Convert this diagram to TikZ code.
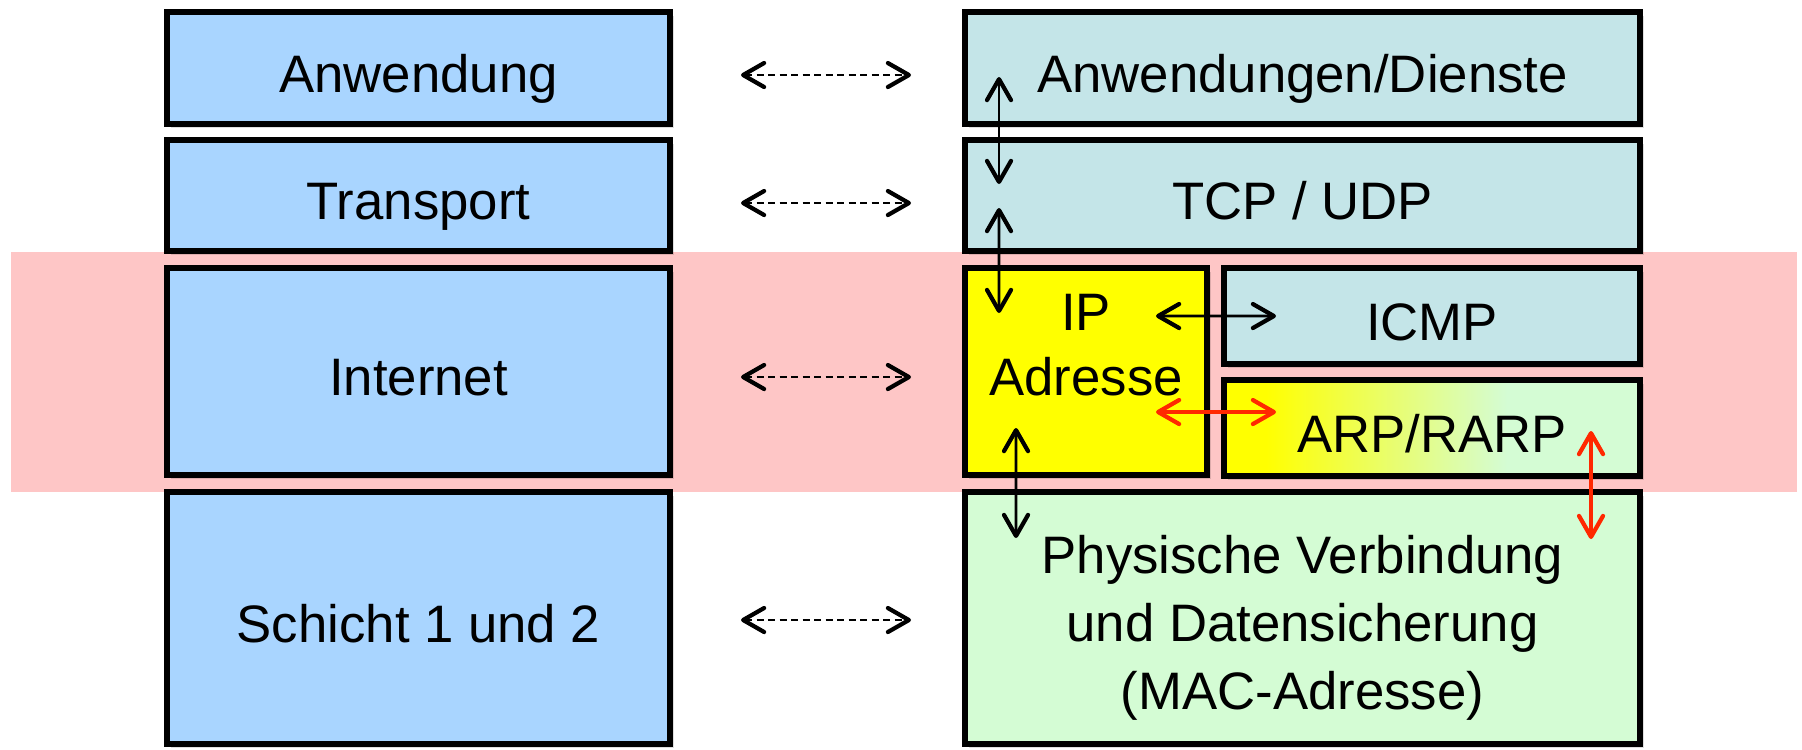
\documentclass[tikz,border=0pt]{standalone}
\usepackage{fontspec}
\setmainfont{Liberation Sans}
\usetikzlibrary{arrows.meta,calc,shadows}
\definecolor{layerblue}{RGB}{169,213,255}
\definecolor{protocyan}{RGB}{196,229,232}
\definecolor{ipyellow}{RGB}{255,255,0}
\definecolor{linkgreen}{RGB}{212,252,212}
\definecolor{bandpink}{RGB}{254,198,198}
\definecolor{arrowred}{RGB}{255,40,0}
\pgfdeclarehorizontalshading{arpshade}{100bp}{color(0bp)=(ipyellow); color(30bp)=(ipyellow); color(59bp)=(linkgreen); color(100bp)=(linkgreen)}

\begin{document}
\begin{tikzpicture}[
    chev/.tip={Straight Barb[length=0.21cm, width=0.24cm, line width=1.2pt, round]},
    layer/.style={rectangle, draw, line width=0.06cm, inner sep=0pt, align=center, text height=0.48cm, text depth=0cm, font=\fontsize{15pt}{18.5pt}\selectfont, drop shadow={shadow xshift=0.035cm, shadow yshift=-0.035cm, opacity=0.13, fill=black}},
    boxtext/.style={align=center, inner sep=0pt},
    peer/.style={chev-chev, line width=0.6pt, dash pattern=on 0.07cm off 0.045cm},
    link/.style={chev-chev, line width=0.8pt},
    redlink/.style={chev-chev, line width=1.1pt, draw=arrowred}
]
\useasboundingbox (0,0) rectangle (18.02,-7.49);

% === INTERNET BAND ===
\fill[bandpink] (0.11,-2.52) rectangle (17.97,-4.92);

% === TCP/IP-MODELL (left) ===
\node[layer, fill=layerblue, minimum width=5.03cm, minimum height=1.12cm] (anw) at (4.185,-0.68) {Anwendung};
\node[layer, fill=layerblue, minimum width=5.03cm, minimum height=1.11cm] (trans) at (4.185,-1.955) {Transport};
\node[layer, fill=layerblue, minimum width=5.03cm, minimum height=2.07cm] (inet) at (4.185,-3.715) {Internet};
\node[layer, fill=layerblue, minimum width=5.03cm, minimum height=2.52cm] (schicht) at (4.185,-6.18) {Schicht 1 und 2};

% === PROTOKOLLE (right) ===
\node[layer, fill=protocyan, minimum width=6.75cm, minimum height=1.12cm] (dienste) at (13.025,-0.68) {Anwendungen/Dienste};
\node[layer, fill=protocyan, minimum width=6.75cm, minimum height=1.11cm] (tcp) at (13.025,-1.955) {TCP / UDP};
\node[layer, fill=ipyellow, minimum width=2.42cm, minimum height=2.07cm] (ip) at (10.86,-3.715) {};
\node[boxtext, font=\fontsize{15pt}{18.5pt}\selectfont] (iptext) at (10.86,-3.45) {IP\\Adresse};
\node[layer, fill=protocyan, minimum width=4.16cm, minimum height=0.96cm] (icmp) at (14.32,-3.16) {ICMP};
\node[layer, shading=arpshade, minimum width=4.16cm, minimum height=0.96cm] (arp) at (14.32,-4.28) {ARP/RARP};
\node[layer, fill=linkgreen, minimum width=6.75cm, minimum height=2.52cm] (phys) at (13.025,-6.18) {};
\node[boxtext, font=\fontsize{15pt}{19.3pt}\selectfont] (phystext) at (13.025,-6.28) {Physische Verbindung\\und Datensicherung\\(MAC-Adresse)};

% === PEER ARROWS ===
\draw[peer, shorten <=0.68cm, shorten >=0.51cm] ([yshift=-0.07cm]anw.east) -- ([yshift=-0.07cm]dienste.west);
\draw[peer, shorten <=0.68cm, shorten >=0.51cm] ([yshift=-0.075cm]trans.east) -- ([yshift=-0.075cm]tcp.west);
\draw[peer, shorten <=0.68cm, shorten >=0.51cm] ([yshift=-0.055cm]inet.east) -- ([yshift=-0.055cm]ip.west);
\draw[peer, shorten <=0.68cm, shorten >=0.51cm] ([yshift=-0.02cm]schicht.east) -- ([yshift=-0.02cm]phys.west);

% === STACK ARROWS ===
\draw[link] ([xshift=0.37cm, yshift=-0.68cm]dienste.north west) -- ([xshift=0.37cm, yshift=-0.47cm]tcp.north west);
\draw[link] ([xshift=0.37cm, yshift=-0.71cm]tcp.north west) -- ([xshift=0.37cm, yshift=-0.48cm]ip.north west);
\draw[link] ([xshift=-0.54cm, yshift=-0.51cm]ip.north east) -- ([xshift=0.55cm]icmp.west);
\draw[redlink] ([xshift=-0.54cm, yshift=0.66cm]ip.south east) -- ([xshift=0.55cm, yshift=0.16cm]arp.west);
\draw[link] ([xshift=0.54cm, yshift=0.50cm]ip.south west) -- ([xshift=0.54cm, yshift=-0.49cm]phys.north west);
\draw[redlink] ([xshift=-0.52cm, yshift=0.48cm]arp.south east) -- ([xshift=-0.52cm, yshift=-0.50cm]phys.north east);

\end{tikzpicture}
\end{document}
